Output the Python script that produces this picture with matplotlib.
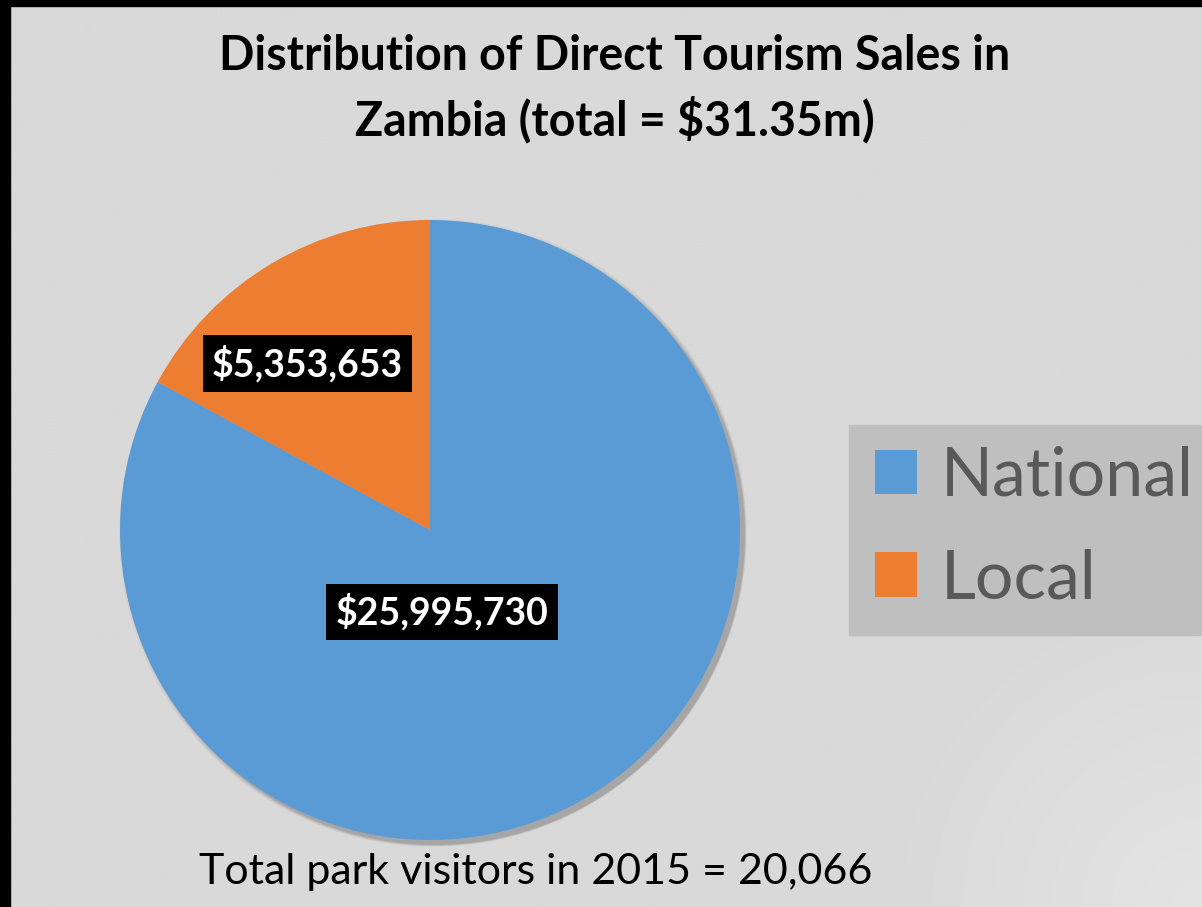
import numpy as np
import matplotlib.pyplot as plt
from matplotlib.patches import Rectangle, Circle

labels = ['National', 'Local']
sales = [25995730, 5353653]
colors = ['#5b9bd5', '#ed7d31']
title = 'Distribution of Direct Tourism Sales in\nZambia (total = $31.35m)'
footnote = 'Total park visitors in 2015 = 20,066'

W, H = 1202, 907
fig = plt.figure(figsize=(W / 100, H / 100), dpi=100)
fig.patch.set_facecolor('#d9d9d9')
plt.rcParams['font.family'] = ['Lato', 'DejaVu Sans']

# background: light radial glow toward the bottom-right corner
bg = fig.add_axes([0, 0, 1, 1], zorder=-1)
yy, xx = np.mgrid[0:H:4, 0:W:4]
dist = np.hypot(W - xx, H - yy)
glow = np.clip(1 - dist / 330, 0, 1)
shade = (217 + 11 * glow) / 255
bg.imshow(np.dstack([shade] * 3), extent=[0, W, H, 0], aspect='auto', interpolation='bilinear')
bg.add_patch(Rectangle((0, 0), W, 6, color='black'))
bg.add_patch(Rectangle((0, 0), 10, H, color='black'))
bg.add_patch(Rectangle((849, 425), W - 849, 210, color='#bfbfbf'))
bg.set_xlim(0, W)
bg.set_ylim(H, 0)
bg.axis('off')

cx, cy, r = 430, 530, 310
ax = fig.add_axes([(cx - r) / W, (H - cy - r) / H, 2 * r / W, 2 * r / H])

wedges, _ = ax.pie(sales, colors=colors, startangle=90, counterclock=False,
                   radius=1, wedgeprops=dict(linewidth=0))
for w in wedges:
    w.set_zorder(2)
ax.set_xlim(-1, 1)
ax.set_ylim(-1, 1)
ax.set_aspect('auto')
ax.axis('off')

# soft shadow
for i, a in enumerate([0.04, 0.05, 0.07, 0.09]):
    ax.add_patch(Circle((0.010 + 0.002 * i, -0.010 - 0.002 * i), 1.0 + 0.012 - 0.004 * i,
                        color='black', alpha=a, lw=0, zorder=0, clip_on=False))

box = dict(boxstyle='square,pad=0.25', fc='black', ec='none')
ax.text(-0.395, 0.537, f'${sales[1]:,}', color='white', fontsize=27, fontweight='bold',
        ha='center', va='center', bbox=box, zorder=5)
ax.text(0.039, -0.265, f'${sales[0]:,}', color='white', fontsize=27, fontweight='bold',
        ha='center', va='center', bbox=box, zorder=5)

fig.text(615 / W, 1 - 89 / H, title, ha='center', va='center', fontsize=33.5,
         fontweight='bold', linespacing=1.45)
fig.text(536 / W, 1 - 872 / H, footnote, ha='center', va='center', fontsize=31)

leg = fig.legend(wedges, labels, loc='center left', bbox_to_anchor=(875 / W, 1 - 528 / H),
                 frameon=False, fontsize=49, handlelength=0.62, handleheight=0.62,
                 handletextpad=0.34, labelspacing=0.6, borderpad=0, borderaxespad=0,
                 labelcolor='#595959')

fig.savefig('out.png', dpi=100, facecolor=fig.get_facecolor())
